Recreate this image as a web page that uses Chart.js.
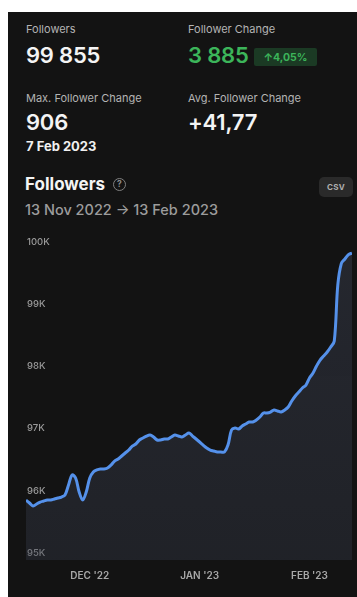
<!DOCTYPE html>
<html>
<head>
<meta charset="utf-8">
<script src="https://cdn.jsdelivr.net/npm/chart.js@4.4.1/dist/chart.umd.min.js"></script>
<style>
  html, body { margin:0; padding:0; background:#ffffff; width:357px; height:597px; overflow:hidden; font-family: Inter, "Noto Sans", sans-serif; }
  #panel { position:absolute; left:8px; top:12px; width:349px; height:585px; background:#131313; }
  .t { position:absolute; line-height:1; white-space:nowrap; }
  .lbl { font-size:11px; color:#b4b4b4; font-weight:400; }
  .big { font-size:22px; color:#f4f4f4; font-weight:600; letter-spacing:-0.2px; }
  #badge { position:absolute; left:254px; top:48px; width:63px; height:18px; background:#1b3a24; border-radius:2px;
           color:#3cb55a; font-size:10.5px; font-weight:700; display:flex; align-items:center; justify-content:center; }
  #help { position:absolute; left:113px; top:178px; width:11px; height:11px; border:1.3px solid #808080; border-radius:50%;
          color:#8a8a8a; font-size:8.5px; font-weight:700; display:flex; align-items:center; justify-content:center; line-height:1; }
  #csv { position:absolute; left:319px; top:177px; width:34px; height:20px; background:#2a2a2a; border-radius:5px;
         color:#b0b0b0; font-size:8px; font-weight:700; display:flex; align-items:center; justify-content:center; letter-spacing:0.3px; }
  #wrap { position:absolute; left:8px; top:226px; width:349px; height:371px; }
</style>
</head>
<body>
<div id="panel"></div>

<div class="t lbl" style="left:26px; top:24px;">Followers</div>
<div class="t big" style="left:26px; top:44px;">99 855</div>
<div class="t lbl" style="left:188px; top:24px;">Follower Change</div>
<div class="t big" style="left:188px; top:44px; color:#3cb55a;">3 885</div>
<div id="badge">↑4,05%</div>

<div class="t lbl" style="left:26px; top:93px;">Max. Follower Change</div>
<div class="t big" style="left:26px; top:110.5px;">906</div>
<div class="t" style="left:26px; top:140px; font-size:13px; font-weight:700; color:#f0f0f0;">7 Feb 2023</div>
<div class="t lbl" style="left:188px; top:93px;">Avg. Follower Change</div>
<div class="t big" style="left:188px; top:110.5px;">+41,77</div>

<div class="t" style="left:25px; top:176px; font-size:17px; font-weight:700; color:#f4f4f4;">Followers</div>
<div id="help">?</div>
<div id="csv">CSV</div>
<div class="t" style="left:25px; top:203px; font-size:14.5px; font-weight:500; color:#9c9c9c;">13 Nov 2022 → 13 Feb 2023</div>

<div id="wrap"><canvas id="c" width="349" height="371"></canvas></div>

<script>
// Daily follower counts, 13 Nov 2022 (day 0) to 13 Feb 2023 (day 92)
const followers = [95884, 95836, 95788, 95820, 95852, 95868, 95884, 95884, 95900, 95916,
  95932, 95965, 96125, 96286, 96238, 96013, 95884, 96013, 96238, 96334,
  96367, 96383, 96383, 96399, 96447, 96511, 96543, 96592, 96640, 96688,
  96752, 96785, 96849, 96881, 96913, 96929, 96897, 96849, 96849, 96865,
  96865, 96897, 96929, 96913, 96897, 96929, 96961, 96913, 96865, 96817,
  96768, 96720, 96688, 96672, 96656, 96656, 96656, 96768, 97010, 97042,
  97026, 97074, 97106, 97138, 97138, 97170, 97219, 97283, 97283, 97299,
  97331, 97315, 97299, 97331, 97379, 97476, 97556, 97621, 97685, 97733,
  97846, 97926, 98039, 98135, 98199, 98264, 98344, 98440, 99346, 99690,
  99760, 99830, 99855];

// X axis month ticks (day index from 13 Nov 2022)
const xTickDays = [18, 49, 80];
const xTickLabels = ["DEC '22", "JAN '23", "FEB '23"];

// Y axis ticks
const yTickValues = [95000, 96000, 97000, 98000, 99000, 100000];
const yTickLabels = ['95K', '96K', '97K', '98K', '99K', '100K'];

const points = followers.map((v, i) => ({ x: i, y: v }));

Chart.defaults.font.family = 'Inter, "Noto Sans", sans-serif';

new Chart(document.getElementById('c'), {
  type: 'line',
  data: {
    datasets: [{
      data: points,
      borderColor: '#5591ea',
      borderWidth: 3,
      pointRadius: 0,
      tension: 0.35,
      fill: 'start',
      backgroundColor: (ctx) => {
        const chart = ctx.chart;
        const area = chart.chartArea;
        if (!area) return 'rgba(55,60,75,0.4)';
        const g = chart.ctx.createLinearGradient(0, area.top, 0, area.bottom);
        g.addColorStop(0, 'rgba(60,65,82,0.45)');
        g.addColorStop(1, 'rgba(55,60,75,0.38)');
        return g;
      }
    }]
  },
  options: {
    responsive: false,
    animation: false,
    events: [],
    layout: { padding: { left: 16, right: 5, top: 18, bottom: 5 } },
    plugins: { legend: { display: false }, tooltip: { enabled: false } },
    scales: {
      x: {
        type: 'linear',
        min: 0,
        max: followers.length - 1,
        grid: { display: false, drawTicks: false },
        border: { display: false },
        afterBuildTicks: (s) => { s.ticks = xTickDays.map(v => ({ value: v })); },
        ticks: {
          autoSkip: false,
          maxRotation: 0,
          padding: 10,
          color: '#a8a8a8',
          font: { size: 10, weight: '600' },
          callback: (v) => { const i = xTickDays.indexOf(v); return i >= 0 ? xTickLabels[i] : ''; }
        }
      },
      y: {
        min: 94920,
        max: 100000,
        grid: { display: false, drawTicks: false },
        border: { display: false },
        afterBuildTicks: (s) => { s.ticks = yTickValues.map(v => ({ value: v })); },
        ticks: {
          mirror: true,
          padding: 1,
          labelOffset: -2,
          color: '#9a9a9a',
          font: { size: 9.5, weight: '500' },
          callback: (v) => { const i = yTickValues.indexOf(v); return i >= 0 ? yTickLabels[i] : ''; }
        }
      }
    }
  }
});
</script>
</body>
</html>
